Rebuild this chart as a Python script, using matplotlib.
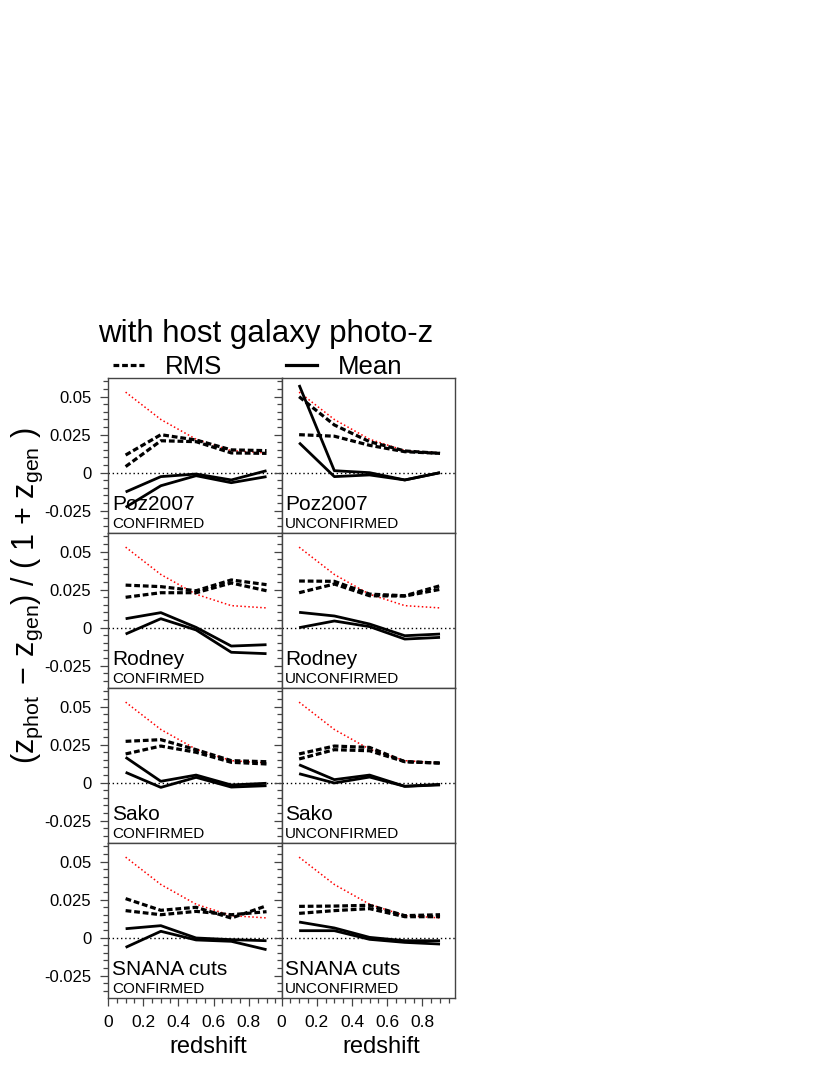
import numpy as np
import matplotlib
matplotlib.use("Agg")
import matplotlib.pyplot as plt
from matplotlib.lines import Line2D
from matplotlib.ticker import MultipleLocator

plt.rcParams["font.family"] = ["Liberation Sans", "DejaVu Sans"]
plt.rcParams["mathtext.default"] = "regular"

# redshift bins
redshift = [0.1, 0.3, 0.5, 0.7, 0.9]
# red dotted reference curve (same in every panel)
ref_curve = [0.053, 0.035, 0.022, 0.0145, 0.013]

# RMS (dashed) and mean (solid), two curves per panel
rms_poz_conf = [[0.0116, 0.025, 0.0215, 0.015, 0.0145],
                [0.004, 0.021, 0.0204, 0.013, 0.0127]]
mean_poz_conf = [[-0.0127, -0.0026, -0.0009, -0.0048, 0.0013],
                 [-0.0228, -0.0086, -0.002, -0.0066, -0.0026]]
rms_poz_unconf = [[0.050, 0.0314, 0.0204, 0.0143, 0.0127],
                  [0.025, 0.024, 0.018, 0.0138, 0.0127]]
mean_poz_unconf = [[0.0577, 0.0013, 0.0, -0.0048, 0.0],
                   [0.0197, -0.0026, -0.0015, -0.0048, 0.0]]

rms_rod_conf = [[0.028, 0.027, 0.0243, 0.0314, 0.0283],
                [0.020, 0.023, 0.023, 0.0294, 0.0243]]
mean_rod_conf = [[0.0059, 0.0099, 0.0002, -0.0121, -0.0112],
                 [-0.0042, 0.0059, -0.0015, -0.0162, -0.0171]]
rms_rod_unconf = [[0.0307, 0.0305, 0.0221, 0.021, 0.0276],
                  [0.023, 0.0287, 0.021, 0.0208, 0.0252]]
mean_rod_unconf = [[0.0101, 0.0077, 0.0024, -0.0053, -0.0042],
                   [0.0, 0.0044, 0.0007, -0.0075, -0.0064]]

rms_sako_conf = [[0.0272, 0.0283, 0.0217, 0.0145, 0.0138],
                 [0.0189, 0.0241, 0.020, 0.0134, 0.0123]]
mean_sako_conf = [[0.0167, 0.0009, 0.005, -0.0015, -0.0004],
                  [0.0068, -0.0031, 0.0035, -0.0029, -0.002]]
rms_sako_unconf = [[0.0189, 0.0241, 0.0232, 0.0138, 0.0129],
                   [0.0156, 0.0217, 0.021, 0.0138, 0.0129]]
mean_sako_unconf = [[0.0118, 0.002, 0.005, -0.0024, -0.0015],
                    [0.0059, -0.0002, 0.0037, -0.0024, -0.0011]]

rms_snana_conf = [[0.0257, 0.018, 0.020, 0.0129, 0.021],
                  [0.0178, 0.0151, 0.0173, 0.0151, 0.0171]]
mean_snana_conf = [[0.0059, 0.0079, -0.0002, -0.0013, -0.002],
                   [-0.0064, 0.0042, -0.0015, -0.0024, -0.0079]]
rms_snana_unconf = [[0.0206, 0.0208, 0.0213, 0.0145, 0.0151],
                    [0.016, 0.0178, 0.0191, 0.0138, 0.0138]]
mean_snana_unconf = [[0.0103, 0.0064, 0.0002, -0.002, -0.002],
                     [0.0046, 0.0046, -0.0011, -0.0031, -0.0042]]

methods = ["Poz2007", "Rodney", "Sako", "SNANA cuts"]
samples = ["CONFIRMED", "UNCONFIRMED"]
rms_data = [[rms_poz_conf, rms_poz_unconf],
            [rms_rod_conf, rms_rod_unconf],
            [rms_sako_conf, rms_sako_unconf],
            [rms_snana_conf, rms_snana_unconf]]
mean_data = [[mean_poz_conf, mean_poz_unconf],
             [mean_rod_conf, mean_rod_unconf],
             [mean_sako_conf, mean_sako_unconf],
             [mean_snana_conf, mean_snana_unconf]]

x_ticks = [0, 0.2, 0.4, 0.6, 0.8]
x_ticklabels = ["0", "0.2", "0.4", "0.6", "0.8"]
y_ticks = [-0.025, 0, 0.025, 0.05]
y_ticklabels = ["-0.025", "0", "0.025", "0.05"]

W, H = 830, 1075
fig = plt.figure(figsize=(W / 100, H / 100), dpi=100)
gs = fig.add_gridspec(4, 2, left=108 / W, right=455 / W,
                      top=1 - 378 / H, bottom=1 - 998 / H,
                      wspace=0, hspace=0)

spine_col = "#444444"
for r in range(4):
    for c in range(2):
        ax = fig.add_subplot(gs[r, c])
        ax.plot(redshift, ref_curve, color="red", lw=1.1,
                linestyle=(0, (1, 1.6)))
        ax.axhline(0, color="black", lw=1.0, linestyle=(0, (1, 2)))
        for ys in rms_data[r][c]:
            ax.plot(redshift, ys, color="black", lw=2.3,
                    linestyle=(0, (1.8, 0.9)), dash_capstyle="butt")
        for ys in mean_data[r][c]:
            ax.plot(redshift, ys, color="black", lw=2.0,
                    solid_capstyle="butt")
        ax.set_xlim(0, 0.985)
        ax.set_ylim(-0.0397, 0.0623)
        ax.set_xticks(x_ticks)
        ax.xaxis.set_minor_locator(MultipleLocator(0.05))
        ax.set_yticks(y_ticks)
        ax.yaxis.set_minor_locator(MultipleLocator(0.005))
        ax.tick_params(which="both", direction="out", top=False, right=False,
                       color=spine_col, width=0.9)
        ax.tick_params(which="major", length=6)
        ax.tick_params(which="minor", length=3.5)
        ax.tick_params(axis="y", labelsize=12, pad=6)
        ax.tick_params(axis="x", labelsize=12.5, pad=6)
        for sp in ax.spines.values():
            sp.set_color(spine_col)
            sp.set_linewidth(1.0)
        if c == 0:
            ax.set_yticklabels(y_ticklabels)
        else:
            ax.set_yticklabels([])
        if r == 3:
            ax.set_xticklabels(x_ticklabels)
        else:
            ax.set_xticklabels([])
        ax.text(0.022, 0.148, methods[r], transform=ax.transAxes,
                fontsize=15, ha="left", va="baseline")
        ax.text(0.022, 0.032, samples[c], transform=ax.transAxes,
                fontsize=11, ha="left", va="baseline")

fig.text(265.5 / W, 1 - 334 / H, "with host galaxy photo-z",
         fontsize=22.5, ha="center", va="center")

handles = [Line2D([], [], color="black", lw=2.3, linestyle=(0, (1.8, 0.9))),
           Line2D([], [], color="black", lw=2.3)]
fig.legend(handles, ["RMS", "Mean"], loc="center",
           bbox_to_anchor=(257.5 / W, 1 - 367 / H), ncol=2, frameon=False,
           fontsize=18.5, handlelength=1.2, handletextpad=0.8,
           columnspacing=2.5, borderpad=0, borderaxespad=0)

fig.text(27 / W, 1 - 596 / H,
         r"$(z_{phot}\,-\,z_{gen})$ / ( 1 + $z_{gen}$ )",
         fontsize=22, rotation=90, ha="center", va="center")

fig.text(208 / W, 1 - 1047 / H, "redshift", fontsize=17,
         ha="center", va="center")
fig.text(381 / W, 1 - 1047 / H, "redshift", fontsize=17,
         ha="center", va="center")

fig.savefig("out.png", dpi=100)
